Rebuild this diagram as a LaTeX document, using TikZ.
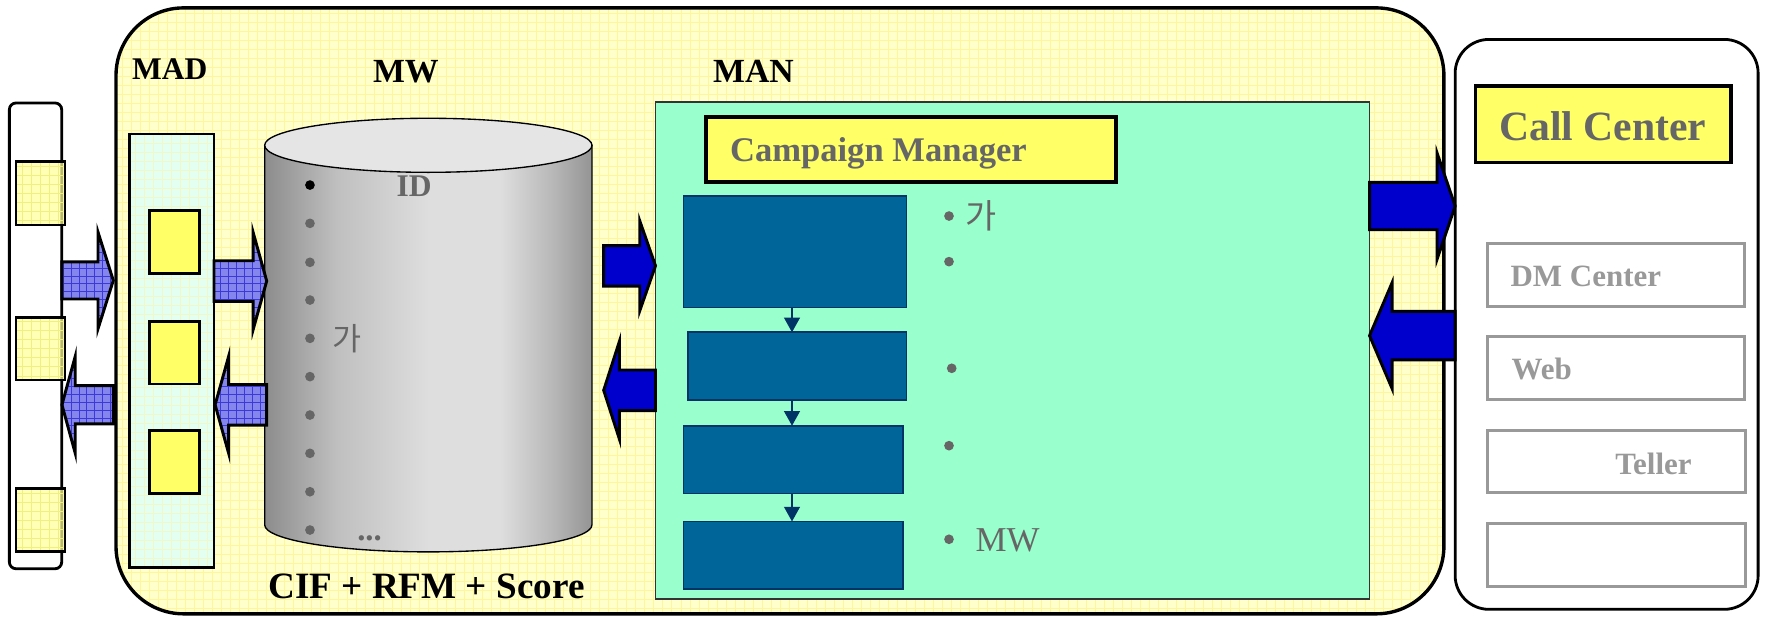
\documentclass[tikz,border=0pt]{standalone}
\usepackage{fontspec}
\setmainfont{Liberation Serif}[BoldFont={Liberation Serif Bold}]
\newfontfamily\krfont{Noto Sans CJK KR}
\usetikzlibrary{arrows.meta}

\definecolor{panelyellow}{HTML}{FFFFCC}
\definecolor{panelgrid}{HTML}{FFF59A}
\definecolor{madcyan}{HTML}{E2FFF2}
\definecolor{madgrid}{HTML}{F2F7C8}
\definecolor{boxyellow}{HTML}{FFFF66}
\definecolor{srcyellow}{HTML}{FFFF99}
\definecolor{srcgrid}{HTML}{F0F080}
\definecolor{mangreen}{HTML}{99FFCC}
\definecolor{stepblue}{HTML}{006699}
\definecolor{stepnavy}{HTML}{003366}
\definecolor{bigblue}{HTML}{0000CC}
\definecolor{hatchblue}{HTML}{8585EE}
\definecolor{hatchline}{HTML}{3A3AD8}
\definecolor{txtgray}{HTML}{666666}
\definecolor{litegray}{HTML}{999999}

\pgfdeclarehorizontalshading{cylshade}{100bp}{%
  color(0bp)=(black!45); color(25bp)=(black!45); color(36bp)=(black!25);
  color(50bp)=(black!13); color(61bp)=(black!13); color(69bp)=(black!28);
  color(75bp)=(black!42); color(100bp)=(black!42)}

% block arrow pointing right: style, tail x, tip x, y, shaft half, head half, head length
\newcommand\rblock[7]{%
  \draw[#1] (#2,{#4-#5}) -- ({#3-#7},{#4-#5}) -- ({#3-#7},{#4-#6}) -- (#3,#4)
    -- ({#3-#7},{#4+#6}) -- ({#3-#7},{#4+#5}) -- (#2,{#4+#5}) -- cycle;}
% block arrow pointing left: style, tip x, tail x, y, shaft half, head half, head length
\newcommand\lblock[7]{%
  \draw[#1] (#3,{#4-#5}) -- ({#2+#7},{#4-#5}) -- ({#2+#7},{#4-#6}) -- (#2,#4)
    -- ({#2+#7},{#4+#6}) -- ({#2+#7},{#4+#5}) -- (#3,{#4+#5}) -- cycle;}

\tikzset{
  box/.style={inner sep=0pt, outer sep=0pt, anchor=north west},
  gridfill/.style 2 args={path picture={\draw[#1, line width=0.6pt]
      (path picture bounding box.south west) grid[step=#2]
      (path picture bounding box.north east);}},
  mainpanel/.style={box, draw=black, line width=3pt, rounded corners=60pt,
      fill=panelyellow, gridfill={panelgrid}{8pt}},
  sidepanel/.style={box, draw=black, line width=2.5pt, fill=white},
  madbox/.style={box, draw=black, line width=2.5pt, fill=madcyan, gridfill={madgrid}{8pt}},
  srcsq/.style={box, draw=black, line width=2.5pt, fill=srcyellow, fill opacity=0.72,
      gridfill={srcgrid}{8pt}},
  madsq/.style={box, draw=black, line width=2.5pt, fill=boxyellow},
  manbox/.style={box, draw=black!80, line width=1.3pt, fill=mangreen},
  titlebox/.style={box, draw=black, line width=3pt, fill=boxyellow},
  channel/.style={box, draw=litegray, line width=2.6pt, fill=white},
  stepbox/.style={box, draw=stepnavy, line width=1.4pt, fill=stepblue},
  flow/.style={draw=stepnavy, line width=1.6pt, -{Triangle[width=14pt,length=13pt]}},
  hatcharrow/.style={draw=black, line width=2.6pt, fill=hatchblue, gridfill={hatchline}{7pt}},
  bluearrow/.style={draw=black, line width=2.6pt, fill=bigblue},
  dot/.style={circle, fill=txtgray, inner sep=0pt, minimum size=8.6pt},
  lbl/.style={anchor=base west, inner sep=0pt, font=\bfseries\fontsize{#1}{#1}\selectfont},
}

\begin{document}
\begin{tikzpicture}[x=1pt, y=-1pt]
\useasboundingbox (0,0) rectangle (1568,547);

% outer panels
\node[mainpanel, minimum width=1179pt, minimum height=538pt] (main) at (103,7) {};
\node[sidepanel, rounded corners=6pt, minimum width=46.5pt, minimum height=413.6pt] (src) at (8.3,91.4) {};
\node[sidepanel, rounded corners=30pt, minimum width=269pt, minimum height=506pt] (cc) at (1292,35) {};

% source squares on the left panel
\node[srcsq, minimum width=43.5pt, minimum height=56pt] (s1) at (14.2,143.7) {};
\node[srcsq, minimum width=43.5pt, minimum height=55.4pt] (s2) at (14.2,282) {};
\node[srcsq, minimum width=43.5pt, minimum height=56pt] (s3) at (14.2,433.6) {};

% MAD column
\node[lbl=28] (madlbl) at (117,71) {MAD};
\node[madbox, minimum width=75pt, minimum height=385pt] (mad) at (115,119) {};
\node[madsq, minimum width=44pt, minimum height=55.5pt] (m1) at (133,187) {};
\node[madsq, minimum width=44pt, minimum height=55.5pt] (m2) at (133,285.5) {};
\node[madsq, minimum width=44pt, minimum height=56pt] (m3) at (133,382) {};

% MW warehouse cylinder
\node[lbl=30] (mwlbl) at (331,73.4) {MW};
\shade[shading=cylshade, draw=black, line width=1.2pt]
  (235,129) -- (235,466) arc[start angle=180, end angle=0, x radius=145.3, y radius=24]
  -- (525.6,129) -- cycle;
\draw[fill=black!10, line width=1.2pt] (380.3,129) ellipse[x radius=145.3, y radius=24];
\node[dot, fill=black] (c0) at (275.2,164.3) {};
\foreach \i/\yy in {1/198.3,2/232.9,3/266.4,4/300.4,5/334.4,6/368.5,7/402.5,8/436.6,9/470.6}
  \node[dot] (c\i) at (275.2,\yy) {};
\node[lbl=28, text=txtgray] (idlbl) at (352,174.6) {ID};
\node[anchor=west, inner sep=0pt, text=txtgray, font=\krfont\fontsize{28}{28}\selectfont] (cylga) at (295,301) {가};
\node[lbl=29, text=txtgray] (more) at (317,480) {...};
\node[lbl=33] (ciflbl) at (238,531) {CIF + RFM + Score};

% MAN section
\node[lbl=30] (manlbl) at (633,73.4) {MAN};
\node[manbox, minimum width=634pt, minimum height=441.3pt] (man) at (582,90.7) {};
\node[titlebox, minimum width=364pt, minimum height=57.5pt] (cm) at (627,104) {};
\node[lbl=30.7, text=txtgray] (cmlbl) at (648,143.5) {Campaign Manager};
\node[stepbox, minimum width=198pt, minimum height=99pt] (b1) at (607,174) {};
\node[stepbox, minimum width=194pt, minimum height=60pt] (b2) at (611,295) {};
\node[stepbox, minimum width=195pt, minimum height=60pt] (b3) at (607,378) {};
\node[stepbox, minimum width=195pt, minimum height=60pt] (b4) at (607,463) {};
\coordinate (flowx) at (703.2,0);
\draw[flow] (b1.south -| flowx) -- (b2.north -| flowx);
\draw[flow] (b2.south -| flowx) -- (b3.north -| flowx);
\draw[flow] (b3.south -| flowx) -- (b4.north -| flowx);
\node[dot] (d1) at (842.6,191.8) {};
\node[dot] (d2) at (842.6,232.3) {};
\node[dot] (d3) at (845,327) {};
\node[dot] (d4) at (842.6,395.7) {};
\node[dot] (d5) at (842.6,478.8) {};
\node[anchor=west, inner sep=0pt, text=txtgray, font=\krfont\fontsize{30}{30}\selectfont] (manga) at (857,192) {가};
\node[anchor=base west, inner sep=0pt, text=txtgray, font=\fontsize{31}{31}\selectfont] (manmw) at (866,490) {MW};

% delivery channels
\node[titlebox, minimum width=227pt, minimum height=68pt] (ccbox) at (1310,76.5) {};
\node[lbl=37, text=txtgray] (cclbl) at (1331,124.4) {Call Center};
\node[channel, minimum width=228pt, minimum height=56.5pt] (dm) at (1321,216) {};
\node[lbl=27.5, text=litegray] at (1341,254.5) {DM Center};
\node[channel, minimum width=228pt, minimum height=56pt] (web) at (1321,299) {};
\node[lbl=27.5, text=litegray] at (1342,336.6) {Web};
\node[channel, minimum width=229pt, minimum height=55.5pt] (teller) at (1321,382) {};
\node[lbl=27.5, text=litegray] at (1434,421) {Teller};
\node[channel, minimum width=229pt, minimum height=56pt] (other) at (1321,464.6) {};

% data flows between the stages
\rblock{hatcharrow}{55}{100.6}{249}{16.5}{43}{13.6}
\lblock{hatcharrow}{55}{100.6}{359.4}{17}{43}{11.8}
\rblock{hatcharrow}{190}{236.8}{249.5}{18}{43}{12}
\lblock{hatcharrow}{191}{236.8}{359.4}{18}{43}{12}
\rblock{bluearrow}{536}{582}{236}{18}{40}{14}
\lblock{bluearrow}{536}{582}{346.5}{18}{43.5}{14}
\rblock{bluearrow}{1216}{1292}{183}{21}{47}{16}
\lblock{bluearrow}{1216}{1292}{298}{21.5}{47}{20}
\end{tikzpicture}
\end{document}
